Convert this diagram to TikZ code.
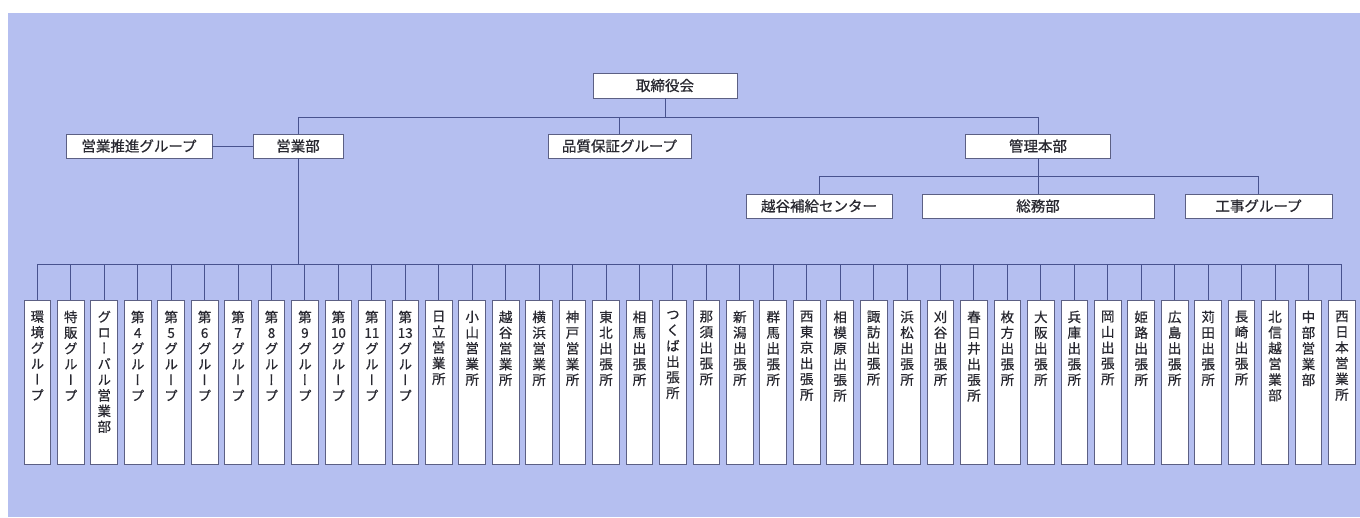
\documentclass[tikz,border=0pt]{standalone}
\usepackage{fontspec}
\setmainfont[FakeBold=0.6]{Noto Sans CJK JP}
\newfontfamily\tatefont[RawFeature=+vert, FakeBold=0.6]{Noto Sans CJK JP}

\definecolor{sfondo}{RGB}{181,191,240}
\definecolor{linea}{RGB}{72,82,142}
\definecolor{bordo}{RGB}{92,96,132}
\definecolor{testo}{RGB}{40,40,48}

% testo verticale, un carattere per riga
\makeatletter
\newcommand\tate[1]{\expandafter\tate@lista\expandafter{#1}}
\def\tate@lista#1{\@tfor\tate@ch:=#1\do{\hbox to 16pt{\hss\tate@ch\hss}}}
\makeatother

\tikzset{
  ufficio/.style={draw=bordo, fill=white, line width=0.9pt, inner sep=0pt,
    minimum height=24pt, text=testo, font=\fontsize{14.5}{16}\selectfont},
  cella/.style={draw=bordo, fill=white, line width=0.9pt, inner sep=0pt,
    minimum width=26.7pt, minimum height=164pt},
  tatetesto/.style={anchor=north, inner sep=0pt, text=testo,
    font=\tatefont\fontsize{13.5}{15.7}\selectfont},
  collega/.style={draw=linea, line width=1pt}
}

\begin{document}
\begin{tikzpicture}[x=1pt, y=-1pt, line cap=rect, line join=miter]

\useasboundingbox (0,0) rectangle (1360,517);
\fill[sfondo] (8,13) rectangle (1360,517);

% Vertice
\node[ufficio, minimum width=144pt, minimum height=25pt] (cda) at (665,85.5) {取締役会};

% Secondo livello
\node[ufficio, minimum width=146pt] (suishin) at (139,146) {営業推進グループ};
\node[ufficio, minimum width=90pt] (eigyo) at (298,146) {営業部};
\node[ufficio, minimum width=143pt] (hinshitsu) at (619.5,146) {品質保証グループ};
\node[ufficio, minimum width=145pt] (kanri) at (1038,146) {管理本部};

% Sotto il 管理本部
\node[ufficio, minimum width=146pt] (koshigaya) at (819,206) {越谷補給センター};
\node[ufficio, minimum width=232pt] (somu) at (1038,206) {総務部};
\node[ufficio, minimum width=147pt] (koji) at (1258.5,206) {工事グループ};

\coordinate (riga1) at (0,117);
\coordinate (riga2) at (0,176);
\coordinate (riga3) at (0,264);

% Collegamenti in alto
\draw[collega] (cda.south) -- (cda.south |- riga1);
\draw[collega] (eigyo.north) -- (eigyo.north |- riga1) -- (kanri.north |- riga1) -- (kanri.north);
\draw[collega] (hinshitsu.north) -- (hinshitsu.north |- riga1);
\draw[collega] (suishin.east) -- (eigyo.west);
\draw[collega] (kanri.south) -- (somu.north);
\draw[collega] (koshigaya.north) -- (koshigaya.north |- riga2) -- (koji.north |- riga2) -- (koji.north);

% Gruppi e sedi
\foreach \nome [count=\i] in {環境グループ,特販グループ,グローバル営業部,第4グループ,
  第5グループ,第6グループ,第7グループ,第8グループ,第9グループ,{第{10}グループ},
  {第{11}グループ},{第{13}グループ},日立営業所,小山営業所,越谷営業所,横浜営業所,
  神戸営業所,東北出張所,相馬出張所,つくば出張所,那須出張所,新潟出張所,群馬出張所,
  西東京出張所,相模原出張所,諏訪出張所,浜松出張所,刈谷出張所,春日井出張所,
  枚方出張所,大阪出張所,兵庫出張所,岡山出張所,姫路出張所,広島出張所,苅田出張所,
  長崎出張所,北信越営業部,中部営業部,西日本営業所}{
  \node[cella] (b\i) at ({37.35+(\i-1)*33.45},382) {};
  \node[tatetesto] (t\i) at ([yshift=-11pt]b\i.north) {\vbox{\tate{\nome}}};
  \draw[collega] (b\i.north) -- (b\i.north |- riga3);
}

\draw[collega] (eigyo.south) -- (eigyo.south |- riga3);
\draw[collega] (b1.north |- riga3) -- (b40.north |- riga3);

\end{tikzpicture}
\end{document}
